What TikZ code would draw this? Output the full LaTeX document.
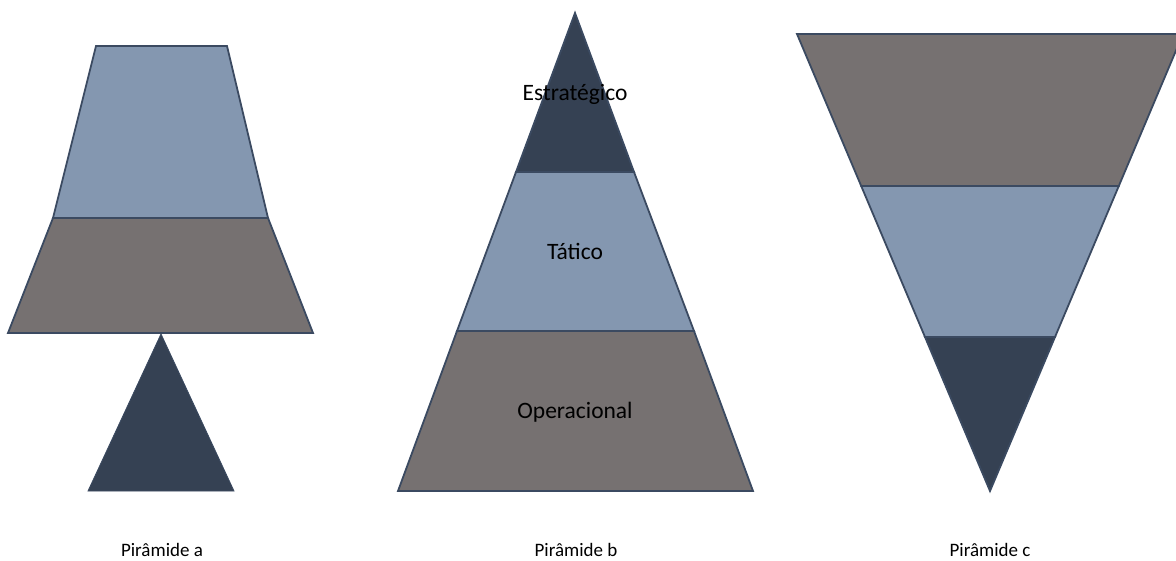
\documentclass[tikz,border=0pt]{standalone}
\usepackage{fontspec}
\setmainfont{Carlito}
\definecolor{edgec}{HTML}{3B4A61}
\definecolor{darkc}{HTML}{354153}
\definecolor{bluec}{HTML}{8497B0}
\definecolor{grayc}{HTML}{767171}
\begin{document}
\begin{tikzpicture}[x=1pt,y=-1pt,
  layer/.style={draw=edgec,line width=1.8pt,line join=miter},
  lbl/.style={font=\fontsize{23.5}{28}\selectfont,anchor=base,inner sep=0pt,text=black},
  captionlbl/.style={font=\fontsize{19}{23}\selectfont,anchor=base,inner sep=0pt,text=black}]
\useasboundingbox (0,0) rectangle (1176,561);
\clip (0,0) rectangle (1176,561);
% Piramide a
\filldraw[layer,fill=bluec] (96,46) -- (227,46) -- (268,218) -- (53,218) -- cycle;
\filldraw[layer,fill=grayc] (53,218) -- (268,218) -- (313,333) -- (8,333) -- cycle;
\filldraw[draw=edgec,line width=0.8pt,fill=darkc] (161,334) -- (234,491) -- (88,491) -- cycle;
% Piramide b
\filldraw[layer,fill=darkc] (575,13) -- (634,172) -- (516,172) -- cycle;
\filldraw[layer,fill=bluec] (516,172) -- (634,172) -- (694,331) -- (457,331) -- cycle;
\filldraw[layer,fill=grayc] (457,331) -- (694,331) -- (753,491) -- (398,491) -- cycle;
% Piramide c
\filldraw[layer,fill=grayc] (797,34) -- (1183,34) -- (1118.8,186) -- (861.2,186) -- cycle;
\filldraw[layer,fill=bluec] (861.2,186) -- (1118.8,186) -- (1055,337) -- (925,337) -- cycle;
\filldraw[layer,fill=darkc] (925,337) -- (1055,337) -- (990,491) -- cycle;
% labels
\node[lbl] (estr) at (575,101) {Estratégico};
\node[lbl] (tat) at (575,260) {Tático};
\node[lbl] (oper) at (575,418) {Operacional};
\node[captionlbl] (pa) at (162,556) {Pirâmide a};
\node[captionlbl] (pb) at (576,556) {Pirâmide b};
\node[captionlbl] (pc) at (990,556) {Pirâmide c};
\end{tikzpicture}
\end{document}
